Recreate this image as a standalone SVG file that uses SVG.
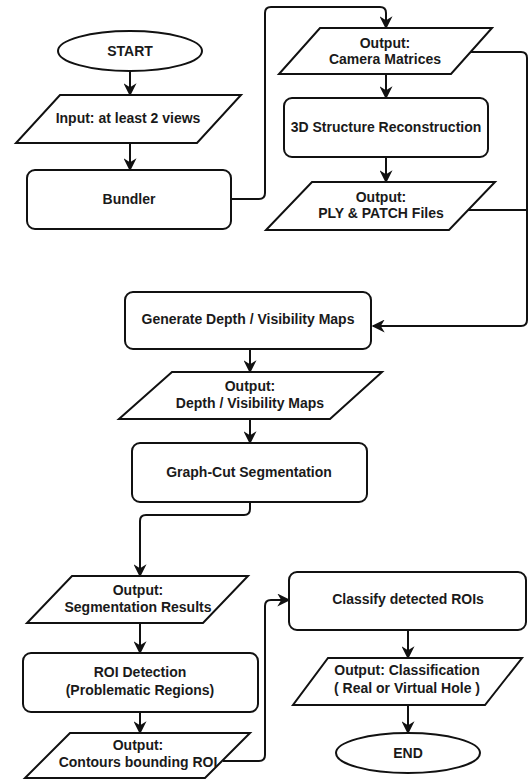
<svg xmlns="http://www.w3.org/2000/svg" width="529" height="780" viewBox="0 0 529 780">
<defs>
<style>
.n{fill:#fff;stroke:#111;stroke-width:2}
.c{fill:none;stroke:#111;stroke-width:2;marker-end:url(#ah)}
.l{fill:none;stroke:#111;stroke-width:2}
text{font-family:"Liberation Sans",Arial,sans-serif;font-weight:bold;font-size:14px;fill:#1a1a1a;text-anchor:middle;dominant-baseline:central}
</style>
<marker id="ah" viewBox="0 0 10 10" refX="9" refY="5" markerWidth="13" markerHeight="13" markerUnits="userSpaceOnUse" orient="auto">
<path d="M0,0 L10,5 L0,10 L3,5 Z" fill="#111"/>
</marker>
</defs>
<rect width="529" height="780" fill="#fff"/>
<g id="connectors">
<path class="c" d="M130,72 V95"/>
<path class="c" d="M130,143 V170"/>
<path class="c" d="M231,199 H259 Q265,199 265,193 V13 Q265,7 271,7 H380 Q386,7 386,13 V28"/>
<path class="c" d="M386,74 V98"/>
<path class="c" d="M386,157 V182"/>
<path class="c" d="M471,52 H521 Q527,52 527,58 V320 Q527,326 521,326 H373"/>
<path class="l" d="M468,210 H527"/>
<path class="c" d="M250,349 V372"/>
<path class="c" d="M250,419 V443"/>
<path class="c" d="M250,502 V509 Q250,515 244,515 H146 Q140,515 140,521 V576"/>
<path class="c" d="M140,623 V653"/>
<path class="c" d="M140,712 V733"/>
<path class="c" d="M223,761 H259 Q265,761 265,755 V606 Q265,600 271,600 H289"/>
<path class="c" d="M408,630 V658"/>
<path class="c" d="M408,705 V733"/>
</g>
<g id="start"><ellipse class="n" cx="130" cy="51" rx="72" ry="20"/><text x="130" y="51">START</text></g>
<g id="input"><polygon class="n" points="60,95 241,95 197,143 16,143"/><text x="128" y="118">Input: at least 2 views</text></g>
<g id="bundler"><rect class="n" x="27" y="170" width="204" height="59" rx="8"/><text x="129" y="199">Bundler</text></g>
<g id="camera"><polygon class="n" points="320,28 492,28 451,74 279,74"/><text x="385" y="43">Output:</text><text x="385" y="59">Camera Matrices</text></g>
<g id="reconstruction"><rect class="n" x="284" y="98" width="204" height="59" rx="8"/><text x="386" y="127">3D Structure Reconstruction</text></g>
<g id="ply"><polygon class="n" points="312,182 495,182 449,230 266,230"/><text x="381" y="197">Output:</text><text x="381" y="213">PLY &amp; PATCH Files</text></g>
<g id="generate"><rect class="n" x="125" y="292" width="246" height="57" rx="8"/><text x="248" y="319">Generate Depth / Visibility Maps</text></g>
<g id="depthmaps"><polygon class="n" points="172,372 382,372 330,419 119,419"/><text x="250" y="386">Output:</text><text x="250" y="403">Depth / Visibility Maps</text></g>
<g id="graphcut"><rect class="n" x="132" y="443" width="235" height="59" rx="8"/><text x="249" y="472">Graph-Cut Segmentation</text></g>
<g id="segresults"><polygon class="n" points="72,576 248,576 203,623 27,623"/><text x="138" y="590">Output:</text><text x="138" y="607">Segmentation Results</text></g>
<g id="roi"><rect class="n" x="23" y="653" width="235" height="59" rx="8"/><text x="140" y="672">ROI Detection</text><text x="140" y="690">(Problematic Regions)</text></g>
<g id="contours"><polygon class="n" points="70,733 250,733 205,778 25,778"/><text x="138" y="745">Output:</text><text x="138" y="762">Contours bounding ROI</text></g>
<g id="classify"><rect class="n" x="289" y="572" width="237" height="58" rx="8"/><text x="408" y="599">Classify detected ROIs</text></g>
<g id="classification"><polygon class="n" points="328,658 522,658 485,705 293,705"/><text x="407" y="670">Output: Classification</text><text x="407" y="688">( Real or Virtual Hole )</text></g>
<g id="end"><ellipse class="n" cx="408" cy="753" rx="72" ry="20"/><text x="408" y="753">END</text></g>
</svg>
